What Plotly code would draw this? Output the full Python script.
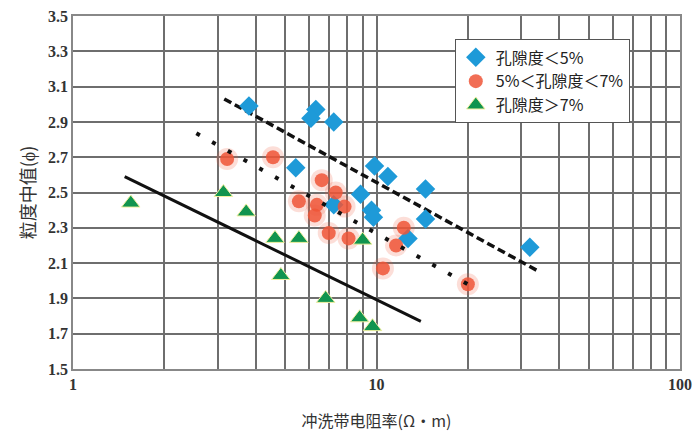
import plotly.graph_objects as go

# ---- data ----
blue_x = [3.80, 6.31, 6.08, 7.23, 5.42, 9.85, 10.9, 8.86, 9.63, 9.77, 14.5, 14.5, 7.23, 12.7, 32.0]
blue_y = [2.99, 2.97, 2.92, 2.90, 2.64, 2.65, 2.59, 2.49, 2.40, 2.36, 2.52, 2.35, 2.43, 2.24, 2.19]

red_x = [3.22, 4.56, 6.60, 7.34, 5.55, 6.36, 6.26, 7.85, 6.96, 8.09, 12.3, 11.6, 10.5, 20.0]
red_y = [2.69, 2.70, 2.57, 2.50, 2.45, 2.43, 2.37, 2.42, 2.27, 2.24, 2.30, 2.20, 2.07, 1.98]

green_x = [1.55, 3.13, 3.72, 4.63, 5.55, 4.84, 6.80, 8.80, 9.70, 9.00]
green_y = [2.44, 2.50, 2.39, 2.24, 2.24, 2.03, 1.90, 1.79, 1.74, 2.23]

solid_x = [1.48, 14.0]
solid_y = [2.59, 1.77]
dash_x = [3.15, 34.5]
dash_y = [3.03, 2.05]
dot_x = [2.55, 20.0]
dot_y = [2.835, 1.98]

legend_names = ["孔隙度＜5%", "5%＜孔隙度＜7%", "孔隙度＞7%"]

x_tickvals = [1, 2, 3, 4, 5, 6, 7, 8, 9, 10, 20, 30, 40, 50, 60, 70, 80, 90, 100]
x_ticktext = ["1", "", "", "", "", "", "", "", "", "10", "", "", "", "", "", "", "", "", "100"]

x_title = "冲洗带电阻率(Ω・m)"
y_title = "粒度中值(ϕ)"

# ---- figure ----
fig = go.Figure()

fig.add_trace(go.Scatter(x=solid_x, y=solid_y, mode="lines",
                         line=dict(color="#111", width=3), showlegend=False, hoverinfo="skip"))
fig.add_trace(go.Scatter(x=dash_x, y=dash_y, mode="lines",
                         line=dict(color="#111", width=3.5, dash="8px,4px"), showlegend=False, hoverinfo="skip"))

# red halo
fig.add_trace(go.Scatter(x=red_x, y=red_y, mode="markers",
                         marker=dict(symbol="circle", size=22, color="rgba(240,90,60,0.2)", line=dict(width=0)),
                         showlegend=False, hoverinfo="skip"))

fig.add_trace(go.Scatter(x=blue_x, y=blue_y, mode="markers", name=legend_names[0],
                         marker=dict(symbol="diamond", size=15, color="#1E9AD8", line=dict(width=0))))
fig.add_trace(go.Scatter(x=red_x, y=red_y, mode="markers", name=legend_names[1],
                         marker=dict(symbol="circle", size=14, color="rgba(238,85,55,0.85)", line=dict(width=0))))
fig.add_trace(go.Scatter(x=green_x, y=green_y, mode="markers", name=legend_names[2],
                         marker=dict(symbol="triangle-up", size=16, color="#11944F",
                                     line=dict(width=1, color="#F3F0A0"))))

fig.add_trace(go.Scatter(x=dot_x, y=dot_y, mode="lines",
                         line=dict(color="#111", width=4, dash="4px,14px"), showlegend=False, hoverinfo="skip"))

tick_font = dict(family="Liberation Serif", size=16, color="#333", weight="bold")

fig.update_layout(
    width=700, height=439,
    margin=dict(l=73, r=15, t=8, b=70),
    paper_bgcolor="white", plot_bgcolor="white",
    xaxis=dict(type="log", range=[0, 2], tickvals=x_tickvals, ticktext=x_ticktext,
               showgrid=True, gridcolor="#6E6E6E", gridwidth=1.6,
               showline=True, linecolor="#888", linewidth=1.5, mirror=True,
               ticks="", tickfont=tick_font, zeroline=False, ticklabeloverflow="allow",
               title=dict(text=x_title, font=dict(family="Noto Sans CJK SC", size=16, color="#333"),
                          standoff=24)),
    yaxis=dict(range=[1.5, 3.5], tick0=1.5, dtick=0.2, tickformat=".1f",
               showgrid=True, gridcolor="#6E6E6E", gridwidth=1.6,
               showline=True, linecolor="#888", linewidth=1.5, mirror=True,
               ticks="", tickfont=tick_font, zeroline=False, ticklabeloverflow="allow",
               title=dict(text=y_title, font=dict(family="Noto Sans CJK SC", size=18, color="#333"),
                          standoff=8)),
    legend=dict(x=0.629, y=0.9335, xanchor="left", yanchor="top",
                bgcolor="white", bordercolor="#555", borderwidth=1,
                font=dict(family="Noto Sans CJK SC", size=16, color="#222"),
                itemwidth=30, tracegroupgap=0),
    showlegend=True,
)

fig.write_html("out.html", config={"displayModeBar": False},
               post_script="document.body.style.margin='0';")
